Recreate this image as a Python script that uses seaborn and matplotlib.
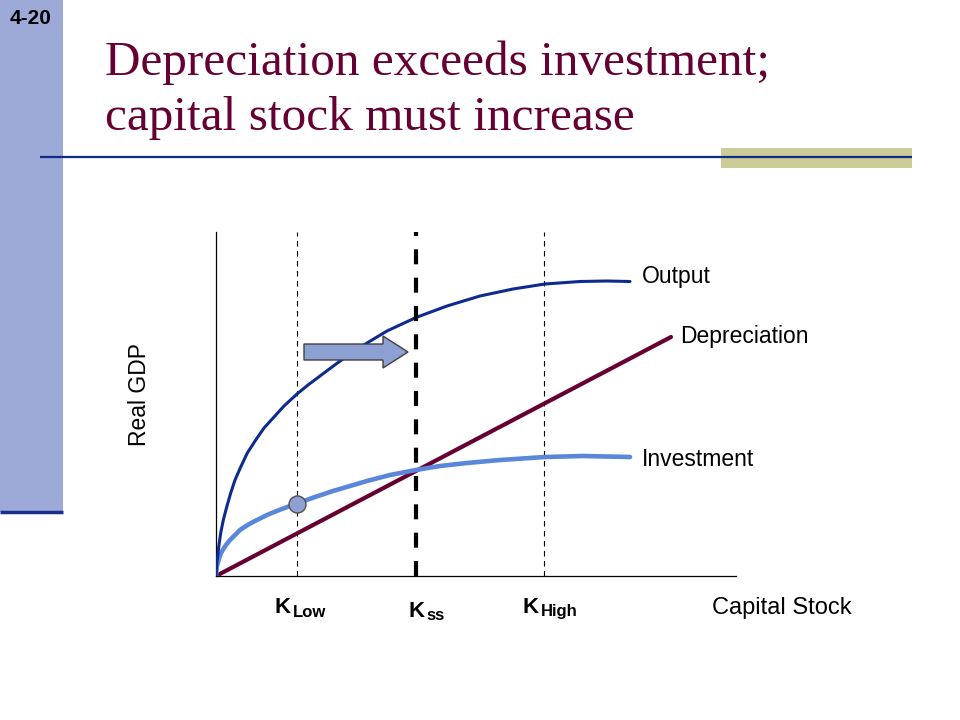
import matplotlib
matplotlib.use("Agg")
import matplotlib.pyplot as plt
import seaborn as sns
from matplotlib.patches import Rectangle, FancyArrow

sns.set_style("white")
plt.rcParams['font.family'] = ['Liberation Sans', 'DejaVu Sans']

# ---- data (arbitrary units: capital stock 0..520, real GDP 0..344) ----
output_k = [0, 0.5, 1.3, 2.7, 4.7, 7.3, 10.7, 14.7, 19, 24.7, 31.3, 39.7, 48, 58, 68, 81, 92, 104,
            118, 134, 151, 171, 200, 231, 264, 297, 329, 364, 391, 414]
output_y = [0, 9, 17, 29, 43, 56, 69, 83, 96, 109, 123, 136, 148, 159, 170, 182, 191, 200,
            210.5, 222, 233, 245, 258.5, 270, 280, 287, 292, 294.5, 295, 294.5]
invest_k = [0, 0.5, 1, 2, 3.5, 5, 7.3, 10, 14, 19, 24, 30, 37, 44, 51, 57, 64, 72, 81, 99, 117,
            134, 151, 174, 200, 224, 251, 284, 329, 367, 414]
invest_y = [0, 6, 10, 14, 19, 23, 27, 31, 36, 41, 46, 50, 54, 57.5, 61, 63.5, 66.3, 69.3, 72.5, 79, 85,
            90, 95, 101, 106, 110, 113, 116, 119, 120, 119]
deprec_k = [0, 455]
deprec_y = [0, 239]
k_low, k_ss, k_high = 81, 200, 328
point_k, point_y = [81], [72.5]

title_lines = ["Depreciation exceeds investment;", "capital stock must increase"]
slide_no = "4-20"

TITLE_C = "#660033"
OUT_C = "#0D2B8E"
INV_C = "#5B87DA"
DEP_C = "#660033"
ARROW_C = "#8E9FD3"

fig = plt.figure(figsize=(9.6, 7.2), dpi=100)
fig.patch.set_facecolor("white")

# ---- slide decoration (pixel coordinates) ----
bg = fig.add_axes([0, 0, 1, 1], zorder=0)
bg.set_xlim(0, 960)
bg.set_ylim(720, 0)
bg.axis("off")
bg.add_patch(Rectangle((0, 0), 63, 512, facecolor="#9DAAD8", edgecolor="none"))
bg.plot([0, 63], [512, 512], color="#1A2F8A", lw=2.5, solid_capstyle="butt")
bg.add_patch(Rectangle((721, 148), 191, 20, facecolor="#CCCC99", edgecolor="none"))
bg.plot([40, 912], [157, 157], color="#0E2C84", lw=1.6, solid_capstyle="butt")
bg.text(10, 19, slide_no, fontsize=15, fontweight="bold", color="black", va="center", ha="left")
bg.text(105, 75, title_lines[0], fontsize=35.5, color=TITLE_C,
        family=["Liberation Serif", "DejaVu Serif"], ha="left", va="baseline")
bg.text(105, 130, title_lines[1], fontsize=35.5, color=TITLE_C,
        family=["Liberation Serif", "DejaVu Serif"], ha="left", va="baseline")

# ---- chart ----
ax = fig.add_axes([216 / 960, 144 / 720, 520 / 960, 344 / 720], zorder=1)
ax.patch.set_visible(False)
ax.set_xlim(0, 520)
ax.set_ylim(0, 344)
for s in ["top", "right"]:
    ax.spines[s].set_visible(False)
for s in ["left", "bottom"]:
    ax.spines[s].set_color("black")
    ax.spines[s].set_linewidth(0.9)
ax.set_xticks([])
ax.set_yticks([])

# vertical guide lines
ax.axvline(k_low, color="black", lw=0.8, dashes=(5, 4))
ax.axvline(k_high, color="black", lw=0.8, dashes=(5, 4))
ax.axvline(k_ss, color="black", lw=3.0, dashes=(3.6, 3.2), zorder=4)

sns.lineplot(x=deprec_k, y=deprec_y, ax=ax, color=DEP_C, lw=3.0, sort=False, estimator=None, zorder=3)
sns.lineplot(x=invest_k, y=invest_y, ax=ax, color=INV_C, lw=3.3, sort=False, estimator=None, zorder=3)
sns.lineplot(x=output_k, y=output_y, ax=ax, color=OUT_C, lw=2.2, sort=False, estimator=None, zorder=3)
for ln in ax.lines:
    ln.set_solid_joinstyle("round")

ax.scatter(point_k, point_y, s=150, facecolor=ARROW_C, edgecolor="#505050", lw=1.0, zorder=6)

ax.add_patch(FancyArrow(88, 224, 104, 0, width=16, head_width=32, head_length=25,
                        length_includes_head=True, facecolor=ARROW_C, edgecolor="#404040",
                        lw=1.0, zorder=5))

# labels
lab = dict(fontsize=16.5, color="black", va="center", ha="left")
ax.text(426, 300, "Output", **lab)
ax.text(464, 240, "Depreciation", **lab)
ax.text(426, 116, "Investment", **lab)
ax.text(496, -32, "Capital Stock", fontsize=17, color="black", va="center", ha="left")
ax.text(-76, 181, "Real GDP", fontsize=16.5, color="black", va="center", ha="center", rotation=90)

kb = dict(fontsize=16, fontweight="bold", color="black", ha="left", va="baseline")
sb = dict(fontsize=12, fontweight="bold", color="black", ha="left", va="baseline")
ax.text(59, -37, "K", **kb)
ax.text(77, -41, "Low", **sb)
ax.text(192, -41, "K", **kb)
ax.text(210, -44, "ss", **sb)
ax.text(307, -37, "K", **kb)
ax.text(325, -40, "High", **sb)

fig.savefig("out.png", dpi=100)
